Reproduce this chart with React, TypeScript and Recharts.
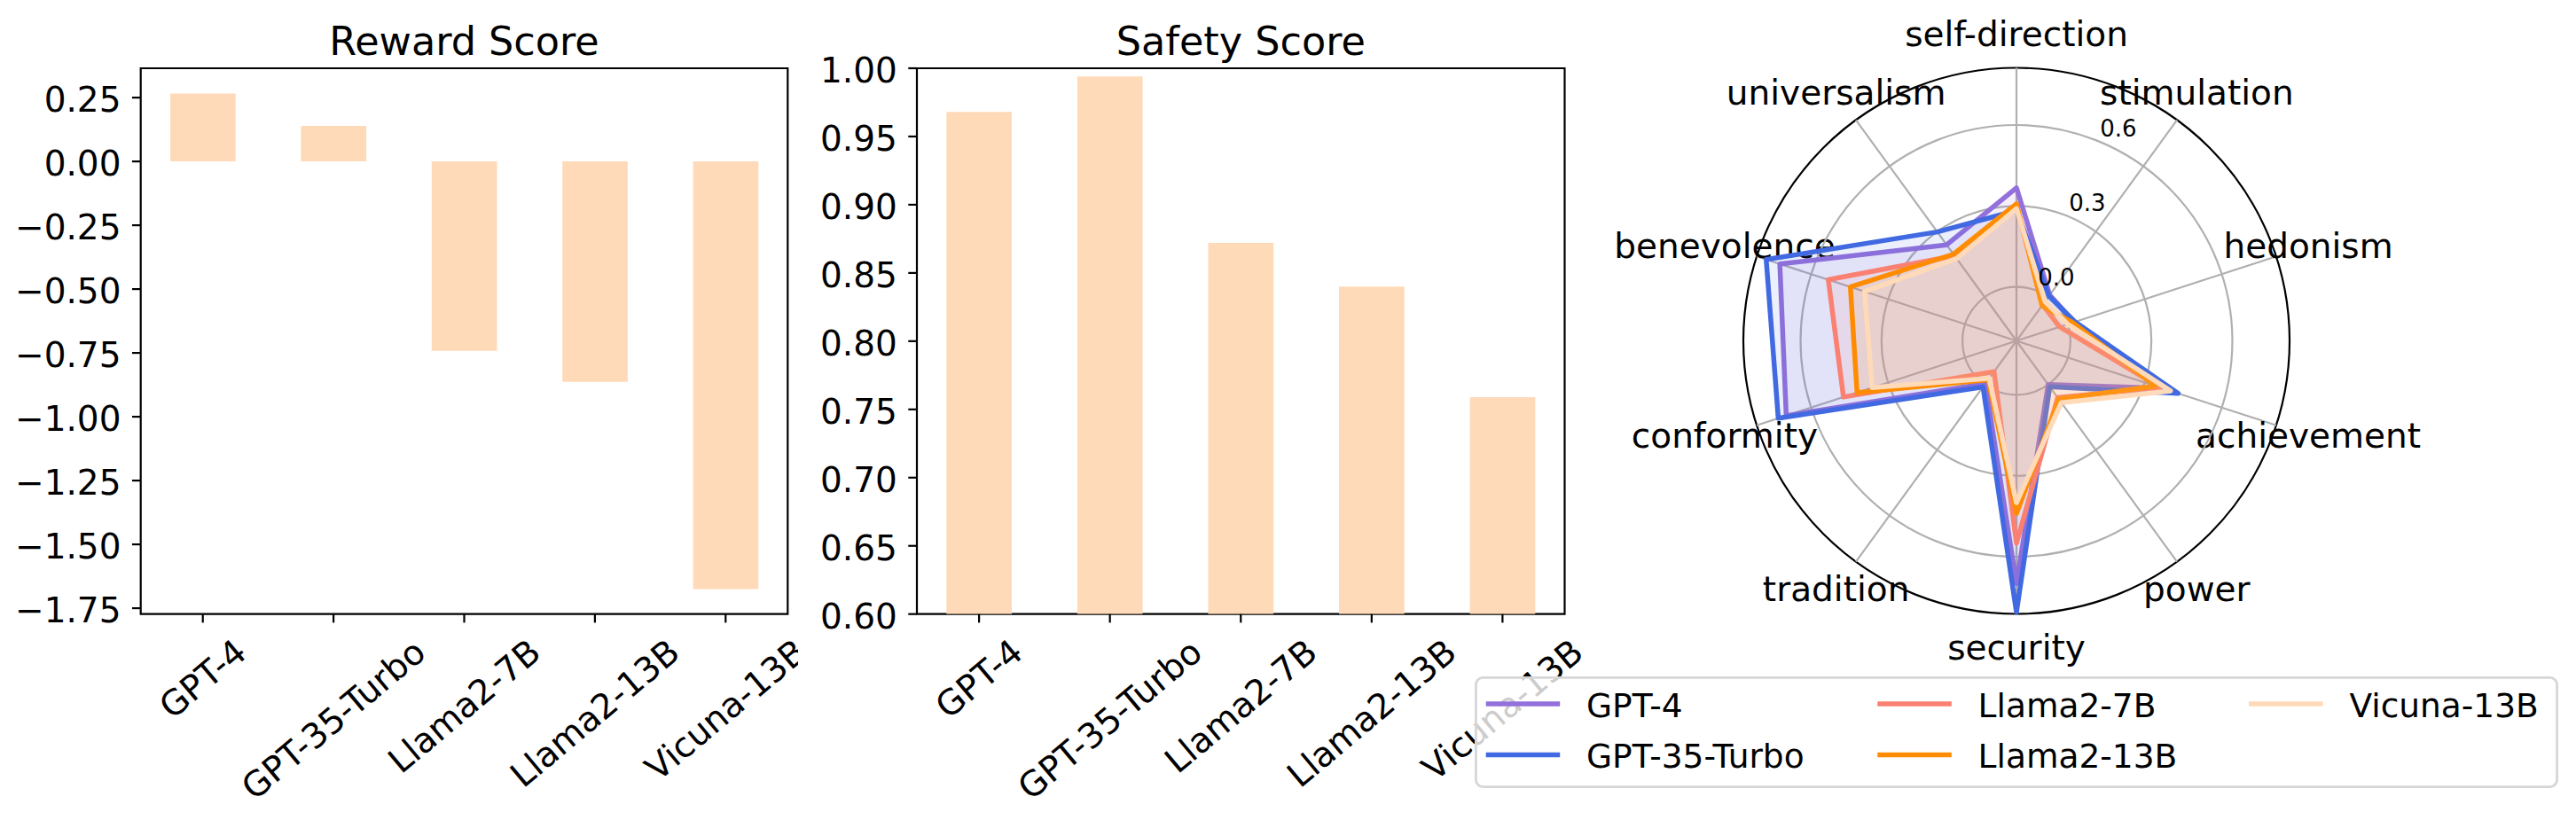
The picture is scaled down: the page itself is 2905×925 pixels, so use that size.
import React from 'react';
import {
  BarChart,
  Bar,
  XAxis,
  YAxis,
  ReferenceArea,
  RadarChart,
  Radar,
  PolarGrid,
  PolarAngleAxis,
  PolarRadiusAxis,
  Legend,
} from 'recharts';

const FONT = '"DejaVu Sans", "Liberation Sans", sans-serif';

// ---------- data ----------
const models = ['GPT-4', 'GPT-35-Turbo', 'Llama2-7B', 'Llama2-13B', 'Vicuna-13B'];
const modelColors = ['#9370DB', '#4169E1', '#FA8072', '#FF8C00', '#FFDAB9'];

const rewardScores = [0.266, 0.139, -0.742, -0.863, -1.675];
const safetyScores = [0.968, 0.994, 0.872, 0.84, 0.759];

const rewardTicks = [0.25, 0.0, -0.25, -0.5, -0.75, -1.0, -1.25, -1.5, -1.75];
const safetyTicks = [0.6, 0.65, 0.7, 0.75, 0.8, 0.85, 0.9, 0.95, 1.0];
const rewardDomain: [number, number] = [-1.773, 0.365];
const safetyDomain: [number, number] = [0.6, 1.0];

const valueDims = [
  'self-direction',
  'stimulation',
  'hedonism',
  'achievement',
  'power',
  'security',
  'tradition',
  'conformity',
  'benevolence',
  'universalism',
];
const gpt4Values = [0.367, 0.01, 0.025, 0.37, 0.0, 0.7, -0.004, 0.697, 0.722, 0.24];
const gpt35Values = [0.283, 0.005, 0.028, 0.43, 0.01, 0.806, 0.011, 0.728, 0.775, 0.299];
const llama7Values = [0.3, -0.035, -0.032, 0.36, 0.06, 0.55, -0.059, 0.474, 0.533, 0.19];
const llama13Values = [0.308, -0.039, 0.019, 0.342, 0.067, 0.44, -0.022, 0.421, 0.447, 0.197];
const vicunaValues = [0.29, -0.02, 0.0, 0.4, 0.083, 0.4, -0.028, 0.362, 0.392, 0.177];
const radialTicks = [0.0, 0.3, 0.6];
// visible radial range of the reference (centre .. outer circle)
const radialVisible: [number, number] = [-0.2, 0.812];
// the radius axis of this Recharts build always tops out at 1.0
const radialDomain: [number, number] = [-0.2, 1.0];

const seriesValues = [gpt4Values, gpt35Values, llama7Values, llama13Values, vicunaValues];

// ---------- helpers ----------
let measureCtx: CanvasRenderingContext2D | null = null;
function textWidth(s: string, size: number): number {
  if (!measureCtx) {
    const c = document.createElement('canvas');
    measureCtx = c.getContext('2d');
  }
  if (!measureCtx) return s.length * size * 0.6;
  measureCtx.font = `${size}px "DejaVu Sans"`;
  return measureCtx.measureText(s).width;
}

const fmtTick = (v: number, digits: number) => {
  const s = Math.abs(v).toFixed(digits);
  return v < -1e-9 ? '\u2212' + s : s;
};

const TICK_FS = 39;
const PLOT_TOP = 77;
const PLOT_BOTTOM = 692.7;
const CHART_H = 925;
const SPINE = 2.2;

const XTick = (props: any) => {
  const { x, y, payload } = props;
  const label = models[payload?.value];
  if (label === undefined) return null;
  const w = textWidth(label, TICK_FS);
  const h = TICK_FS * 1.164;
  const rad = (40 * Math.PI) / 180;
  const H = w * Math.sin(rad) + h * Math.cos(rad);
  const cyy = y + H / 2;
  return (
    <text
      x={x}
      y={cyy}
      textAnchor="middle"
      dominantBaseline="central"
      transform={`rotate(-40 ${x} ${cyy})`}
      fontSize={TICK_FS}
      fontFamily={FONT}
      fill="#000"
    >
      {label}
    </text>
  );
};

const YTick = (props: any) => {
  const { x, y, payload } = props;
  return (
    <text x={x} y={y + 16.3} textAnchor="end" fontSize={TICK_FS} fontFamily={FONT} fill="#000">
      {fmtTick(payload.value, 2)}
    </text>
  );
};

function ScoreBars(props: {
  values: number[];
  ticks: number[];
  domain: [number, number];
  left: number;
  plotLeft: number;
  plotRight: number;
}) {
  const { values, ticks, domain, left, plotLeft, plotRight } = props;
  const width = 900;
  const data = models.map((m, i) => ({ idx: i, name: m, value: values[i] }));
  const xDomain: [number, number] = [-0.475, models.length - 1 + 0.475];
  return (
    <div style={{ position: 'absolute', left, top: 0 }}>
      <BarChart
        width={width}
        height={CHART_H}
        data={data}
        margin={{ top: PLOT_TOP, right: width - plotRight, bottom: 0, left: plotLeft - 100 }}
      >
        <XAxis
          type="number"
          dataKey="idx"
          domain={xDomain}
          ticks={models.map((_, i) => i)}
          interval={0}
          allowDataOverflow
          height={CHART_H - PLOT_BOTTOM}
          axisLine={false}
          tickLine={{ stroke: '#000', strokeWidth: SPINE }}
          tickSize={9.7}
          tickMargin={9.7}
          tick={(p: any) => <XTick {...p} />}
        />
        <YAxis
          type="number"
          domain={domain}
          ticks={ticks}
          interval={0}
          allowDataOverflow
          width={100}
          axisLine={false}
          tickLine={{ stroke: '#000', strokeWidth: SPINE }}
          tickSize={9.7}
          tickMargin={12.5}
          tick={(p: any) => <YTick {...p} />}
        />
        <Bar dataKey="value" fill="#FFDAB9" barSize={73.7} isAnimationActive={false} />
        <ReferenceArea
          x1={xDomain[0]}
          x2={xDomain[1]}
          y1={domain[0]}
          y2={domain[1]}
          fill="none"
          fillOpacity={0}
          stroke="#000"
          strokeWidth={SPINE}
          ifOverflow="visible"
        />
      </BarChart>
    </div>
  );
}

// ---------- radar ----------
const RADAR_LEFT = 1600;
const CX = 674;
const CY = 384.5;
const OUTER_R = 308; // radius of the black outer circle (value radialVisible[1])
const SCALE_R =
  (OUTER_R * (radialDomain[1] - radialDomain[0])) / (radialVisible[1] - radialVisible[0]);

const AngleTick = (props: any) => {
  const { payload } = props;
  const cx = typeof props.cx === 'number' ? props.cx : CX;
  const cy = typeof props.cy === 'number' ? props.cy : CY;
  const r = OUTER_R + 38;
  const a = (-payload.coordinate * Math.PI) / 180;
  const x = cx + r * Math.cos(a);
  const y = cy + r * Math.sin(a);
  return (
    <text x={x} y={y} textAnchor="middle" dominantBaseline="central" fontSize={39} fontFamily={FONT} fill="#000">
      {payload.value}
    </text>
  );
};

const RadiusTick = (props: any) => {
  const { x, y, payload } = props;
  return (
    <text x={x + 1} y={y - 6} textAnchor="start" fontSize={26} fontFamily={FONT} fill="#000">
      {fmtTick(payload.value, 1)}
    </text>
  );
};

const LEG_W = 1222;
const LEG_H = 126;
const legendColX = [12.7, 454.3, 873.1];
const legendRowY = [31, 88.4];

const LegendBox = () => (
  <svg width={LEG_W} height={LEG_H} style={{ display: 'block', overflow: 'visible' }}>
    <rect
      x={1.4}
      y={1.4}
      width={LEG_W - 2.8}
      height={LEG_H - 2.8}
      rx={8}
      ry={8}
      fill="#fff"
      fillOpacity={0.8}
      stroke="#d6d6d6"
      strokeWidth={2.8}
    />
    {models.map((m, i) => {
      const col = Math.floor(i / 2);
      const row = i % 2;
      const x0 = legendColX[col];
      const y0 = legendRowY[row];
      return (
        <g key={m}>
          <line x1={x0} y1={y0} x2={x0 + 83.5} y2={y0} stroke={modelColors[i]} strokeWidth={5.5} />
          <text x={x0 + 113.3} y={y0 + 14.7} fontSize={37.5} fontFamily={FONT} fill="#000">
            {m}
          </text>
        </g>
      );
    })}
  </svg>
);

function buildRadarData() {
  return valueDims.map((d, i) => {
    const row: Record<string, number | string> = { dim: d };
    models.forEach((m, k) => {
      row[m] = seriesValues[k][i];
    });
    return row;
  });
}

// back layer: spokes, black outer circle and category labels
function RadarFrame() {
  const data = buildRadarData();
  return (
    <div style={{ position: 'absolute', left: RADAR_LEFT, top: 0 }}>
      <RadarChart
        width={2905 - RADAR_LEFT}
        height={CHART_H}
        data={data}
        cx={CX}
        cy={CY}
        outerRadius={OUTER_R}
        startAngle={90}
        endAngle={-270}
        margin={{ top: 0, right: 0, bottom: 0, left: 0 }}
      >
        <PolarAngleAxis
          dataKey="dim"
          orientation="inner"
          tickSize={OUTER_R}
          tickLine={{ stroke: '#b0b0b0', strokeWidth: SPINE }}
          tick={(p: any) => <AngleTick {...p} />}
          axisLine={{ stroke: '#000', strokeWidth: SPINE }}
          axisLineType="circle"
        />
      </RadarChart>
    </div>
  );
}

// front layer: radial grid circles, radial labels, series and legend
function ValueRadar() {
  const data = buildRadarData();
  return (
    <div style={{ position: 'absolute', left: RADAR_LEFT, top: 0 }}>
      <RadarChart
        width={2905 - RADAR_LEFT}
        height={CHART_H}
        data={data}
        cx={CX}
        cy={CY}
        outerRadius={SCALE_R}
        startAngle={90}
        endAngle={-270}
        margin={{ top: 0, right: 0, bottom: 0, left: 0 }}
      >
        <PolarGrid gridType="circle" radialLines={false} stroke="#b0b0b0" strokeWidth={SPINE} />
        <PolarAngleAxis dataKey="dim" tick={false} tickLine={false} axisLine={false} />
        <PolarRadiusAxis
          type="number"
          angle={67.5}
          domain={radialDomain}
          ticks={radialTicks}
          allowDataOverflow
          axisLine={false}
          tickLine={false}
          tick={(p: any) => <RadiusTick {...p} />}
        />
        {models.map((m, i) => (
          <Radar
            key={m}
            name={m}
            dataKey={m}
            stroke={modelColors[i]}
            strokeWidth={5.5}
            strokeLinejoin="round"
            fill={modelColors[i]}
            fillOpacity={0.1}
            dot={false}
            isAnimationActive={false}
          />
        ))}
        <Legend
          verticalAlign="bottom"
          content={() => <LegendBox />}
          wrapperStyle={{ left: 63.3, top: 763.3, width: LEG_W, height: LEG_H, bottom: 'auto' }}
        />
      </RadarChart>
    </div>
  );
}

export default function App() {
  return (
    <div
      style={{
        position: 'absolute',
        left: 0,
        top: 0,
        width: 2905,
        height: 925,
        background: '#fff',
        overflow: 'hidden',
        fontFamily: FONT,
      }}
    >
      <ScoreBars values={rewardScores} ticks={rewardTicks} domain={rewardDomain} left={0} plotLeft={158.7} plotRight={888.3} />
      <ScoreBars values={safetyScores} ticks={safetyTicks} domain={safetyDomain} left={900} plotLeft={134} plotRight={864.5} />
      <RadarFrame />
      <ValueRadar />
      <svg
        width={2905}
        height={925}
        style={{ position: 'absolute', left: 0, top: 0, pointerEvents: 'none' }}
      >
        <text x={523.5} y={62} textAnchor="middle" fontSize={44.5} fontFamily={FONT} fill="#000">
          Reward Score
        </text>
        <text x={1399.3} y={62} textAnchor="middle" fontSize={44.5} fontFamily={FONT} fill="#000">
          Safety Score
        </text>
      </svg>
    </div>
  );
}
